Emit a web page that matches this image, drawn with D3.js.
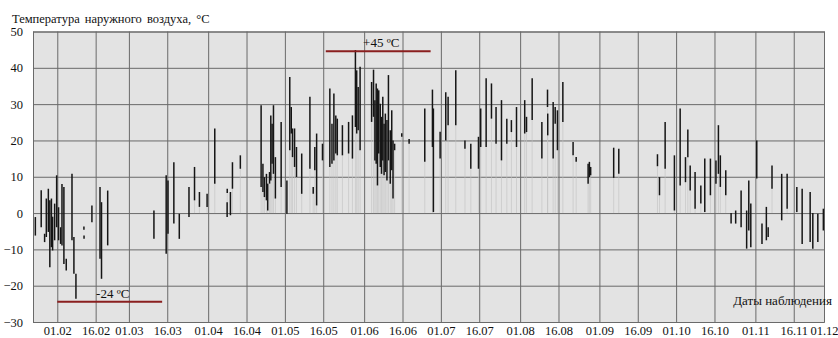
<!DOCTYPE html>
<html><head><meta charset="utf-8">
<script src="https://cdn.jsdelivr.net/npm/d3@7"></script>
<style>
html,body{margin:0;padding:0;background:#fff;}
svg text{font-family:'Liberation Serif','DejaVu Serif','Times New Roman',Times,serif !important;fill:#111;}
</style></head>
<body><svg id="c" width="838" height="338"></svg>
<script>
// ---- data ----
const obsDates = ["23.01 10","25.01 17","27.01 01","27.01 17","28.01 12","29.01 02","29.01 17","30.01 04","30.01 23","31.01 18",
"01.02 12","02.02 07","02.02 20","03.02 14","04.02 12","06.02 18","07.02 12","08.02 07","11.02 10","11.02 11",
"14.02 13","17.02 17","18.02 07","20.02 17","10.03 19","15.03 14","16.03 07","18.03 14","20.03 17","24.03 12",
"26.03 16","28.03 14","31.03 14","03.04 14","08.04 10","08.04 11","09.04 17","10.04 12","13.04 14","21.04 17",
"22.04 10","23.04 00","23.04 19","24.04 07","25.04 00","25.04 12","26.04 00","26.04 13","27.04 07","29.04 13",
"01.05 19","02.05 22","03.05 12","04.05 00","04.05 19","05.05 13","07.05 14","10.05 19","12.05 02","12.05 17",
"13.05 10","15.05 17","18.05 14","19.05 10","20.05 04","20.05 22","21.05 12","23.05 12","25.05 22","27.05 10",
"28.05 14","29.05 02","29.05 16","30.05 10","03.06 22","04.06 16","05.06 05","05.06 17","06.06 05","06.06 17",
"07.06 07","07.06 19","08.06 07","08.06 19","09.06 07","09.06 22","10.06 12","11.06 05","11.06 19","12.06 07",
"12.06 22","15.06 17","18.06 14","24.06 17","27.06 17","28.06 02","30.06 17","02.07 22","03.07 20","06.07 20",
"10.07 10","12.07 17","15.07 17","16.07 14","18.07 17","20.07 19","22.07 14","24.07 17","26.07 19","28.07 14",
"30.07 14","02.08 19","03.08 12","05.08 17","09.08 12","11.08 17","11.08 19","13.08 22","14.08 17","15.08 14",
"17.08 17","21.08 17","22.08 22","27.08 14","28.08 02","28.08 14","06.09 14","08.09 14","23.09 17","24.09 12",
"26.09 17","30.09 08","02.10 14","04.10 16","05.10 14","06.10 12","08.10 10","10.10 16","12.10 05","14.10 10",
"16.10 14","17.10 13","18.10 07","20.10 10","22.10 12","24.10 07","26.10 10","28.10 14","29.10 10","30.10 05",
"01.11 13","03.11 14","05.11 07","06.11 00","07.11 12","11.11 07","13.11 10","17.11 05","19.11 07","22.11 10",
"23.11 11","25.11 10","27.11 14"];
const obsLow = [-6.2,-3.9,-8,-6.6,-5.2,-14.9,-9.4,-10.3,-7.5,-3.9,
-7.5,-8.5,-8.9,-14,-15.8,-7.5,-16.7,-23.6,-4.6,-7.1,
-2.5,-12.6,-18.1,-8.9,-7.1,-11.2,-5.7,-2.9,-7.1,-1.1,
3.5,1.7,1.7,8.1,-1.1,5.5,-0.6,6.7,12.2,7.2,
5.8,4.4,3.5,0.7,8.1,9,13.6,10.8,4,7.2,
-0.2,17.3,21.9,15.4,12.7,9.9,5.3,12.2,5.3,11.8,
2.1,14.5,12.7,13.6,14.5,16.4,15.9,15.9,16.4,15,
23.7,21.9,22.8,17.3,25.1,26.5,14.5,13.6,7.6,16.4,
12.7,10.8,14.5,10.4,11.3,9,14.5,8.1,11.8,4,
17.3,21,19.1,14.1,18.2,0.3,15,20,24.2,24.2,
17.7,12.2,12.2,18.2,18.2,26,19.1,14.5,19.1,22.3,
18.2,21.9,22.3,25.6,15,29.2,21.4,15,24.6,17.3,
25.1,15.9,14.1,8.1,9.9,10.4,9.7,10.8,12.9,4.9,
12.2,0.7,7.6,8.5,15.4,6.2,1.2,2.6,0.3,4.9,
8.1,10.8,7.2,4.9,-2.9,-2.9,-3.9,-9.8,-4.8,-9.4,
9.5,-8.5,-7.5,-6.6,6.7,-2,1.2,0.3,-8.5,-8,
-9.8,-8,-4.8];
const obsHigh = [-1.1,6.3,-5.7,4,6.7,3.5,4,-1,2.6,10.4,
1.6,-3.9,8,7.2,-12.6,10.8,-6.6,-16.7,-4.1,-6.6,
2.1,7.2,3,6.2,0.7,10.4,9,14,-0.2,7.2,
12.7,5.8,5.3,23.3,3,6.3,5.8,14,15.9,29.7,
13.6,9.9,10.8,8.1,11.3,26.9,24.6,29.7,15.4,25.1,
9,37.5,29.2,23.3,23.3,18.2,16.4,32,7.2,18.2,
21.9,19.1,34.3,24.6,32.9,26.9,26,24.2,25.1,26.9,
44.9,39.3,34.7,40.3,36.1,39.5,31.1,35.7,34.3,33.8,
30.1,26.5,32,24.6,27.4,25.6,38,22.8,28.3,20,
19.1,22,20,28.8,34,28.8,22.4,33.3,32,39.3,
20,19.1,21,28.8,37.1,35.7,29.2,31.1,26,25.6,
29.2,31.1,26.5,37.1,25.1,34,27.4,30.6,29.2,28.3,
36.1,19.6,15,13.6,14.1,12.7,18,17.7,16.2,9.9,
25.1,15.9,28.8,15.4,23,13.1,11.3,7.6,15,15,
14.5,24.2,15.9,11.8,0,0.7,6.2,0.7,9,2.6,
20,-2.9,1.7,-3.9,13.1,10.8,10.8,7.2,6.7,5.8,
0,-0.2,1.2];
const xTickLabels = ["01.02","16.02","01.03","16.03","01.04","16.04","01.05","16.05","01.06","16.06","01.07",
"16.07","01.08","16.08","01.09","16.09","01.10","16.10","01.11","16.11","01.12"];
const yTicks = [-30,-20,-10,0,10,20,30,40,50];
const xDomain = ["22.01 12","27.11 20"];
const annotations = [
  {label:"-24 ºC", value:-24, from:"01.02", to:"14.03"},
  {label:"+45 ºC", value:45, from:"17.05", to:"27.06"}
];

// ---- chart ----
const parseObs = d3.timeParse("%d.%m %H");
const parseDay = d3.timeParse("%d.%m");
const svg = d3.select("#c");
const L = 33, R = 824, T = 31.5, B = 322;
const FONT = "'Liberation Serif','DejaVu Serif','Times New Roman',Times,serif";

const x = d3.scaleTime().domain(xDomain.map(parseObs)).range([L, R]).clamp(true);
const y = d3.scaleLinear().domain([-30, 50]).range([B, T]);

svg.append("rect").attr("x", L).attr("y", T).attr("width", R - L).attr("height", B - T)
  .attr("fill", "#e3e3e3");

// grid + axes
const gx = svg.append("g").attr("transform", `translate(0,${B})`)
  .call(d3.axisBottom(x).tickValues(xTickLabels.map(parseDay)).tickFormat(d3.timeFormat("%d.%m"))
    .tickSize(-(B - T)));
gx.attr("font-family", FONT);
gx.select(".domain").attr("stroke", "#5a5a5a");
gx.selectAll(".tick line").attr("stroke", "#6a6a6a").attr("stroke-width", 1);
gx.selectAll(".tick text").attr("font-size", 12.5).attr("fill", "#111")
  .attr("y", 13).attr("dy", 0).style("font-family", FONT);

const gy = svg.append("g").attr("transform", `translate(${L},0)`)
  .call(d3.axisLeft(y).tickValues(yTicks).tickSize(-(R - L)).tickPadding(10));
gy.attr("font-family", FONT);
gy.select(".domain").attr("stroke", "#6a6a6a");
gy.selectAll(".tick line").attr("stroke", "#6a6a6a").attr("stroke-width", 1);
gy.selectAll(".tick text").attr("font-size", 12.5).attr("fill", "#111").style("font-family", FONT);

const data = obsDates.map((d, i) => ({date: parseObs(d), lo: obsLow[i], hi: obsHigh[i]}));

// faint bars from zero
svg.append("g").selectAll("line").data(data.filter(d => d.lo > 0)).join("line")
  .attr("x1", d => x(d.date)).attr("x2", d => x(d.date))
  .attr("y1", y(0)).attr("y2", d => y(d.lo))
  .attr("stroke", "#c2c2c2").attr("stroke-width", 1).attr("opacity", 0.6);

// range bars
svg.append("g").selectAll("line").data(data).join("line")
  .attr("x1", d => x(d.date)).attr("x2", d => x(d.date))
  .attr("y1", d => y(d.lo)).attr("y2", d => y(d.hi) - (d.hi - d.lo < 1 ? 1.5 : 0))
  .attr("stroke", "#151515").attr("stroke-width", 1.5);

// annotations
const ag = svg.append("g");
annotations.forEach(a => {
  const x1 = x(parseDay(a.from)), x2 = x(parseDay(a.to));
  ag.append("line").attr("x1", x1).attr("x2", x2).attr("y1", y(a.value) + 1.5).attr("y2", y(a.value) + 1.5)
    .attr("stroke", "#8a1f1f").attr("stroke-width", 2);
  ag.append("text").attr("x", (x1 + x2) / 2 + 3).attr("y", y(a.value) - 2.5)
    .attr("text-anchor", "middle").attr("font-size", 13).style("font-family", FONT).text(a.label);
});

svg.append("text").attr("x", 12).attr("y", 22.5).attr("font-size", 12.5).style("font-family", FONT)
  .attr("word-spacing", 2).text("Температура наружного воздуха, °С");
svg.append("text").attr("x", 832).attr("y", 305).attr("font-size", 13).style("font-family", FONT)
  .attr("text-anchor", "end").text("Даты наблюдения");
</script></body></html>
